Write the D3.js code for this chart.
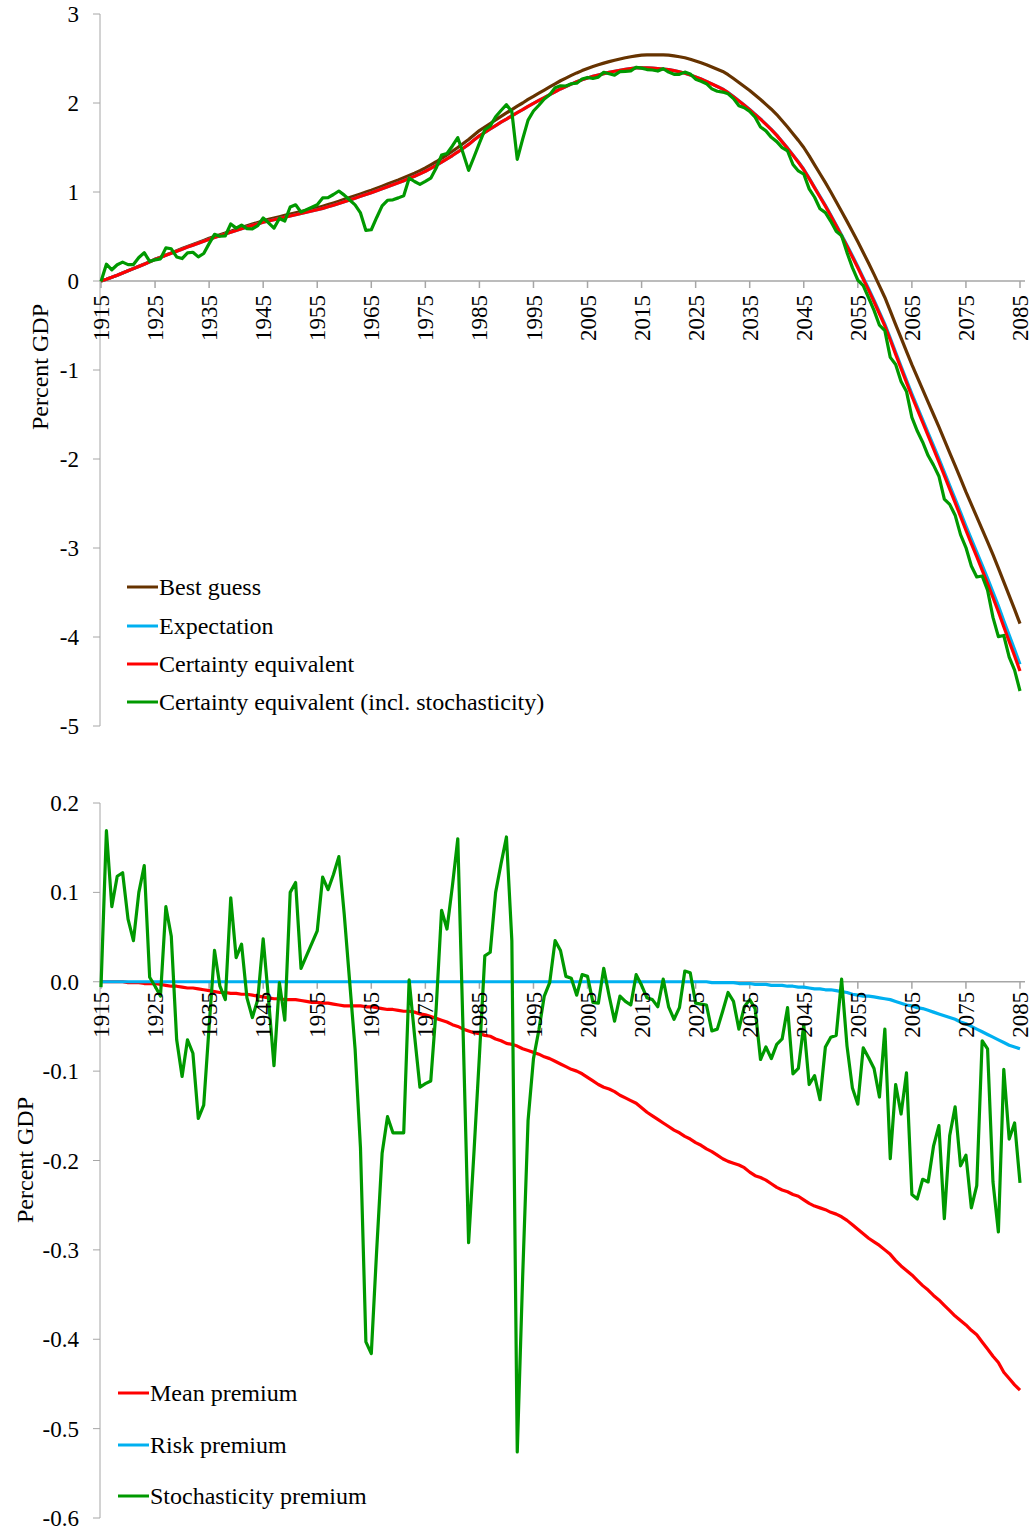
<!DOCTYPE html>
<html>
<head>
<meta charset="utf-8">
<script src="https://cdn.jsdelivr.net/npm/d3@7/dist/d3.min.js"></script>
<style>
  html, body { margin: 0; padding: 0; background: #fff; }
  svg { display: block; }
  text { font-family: "Liberation Serif", "Times New Roman", serif; fill: #000; }
</style>
</head>
<body>
<svg id="chart" width="1034" height="1530"></svg>
<script>
// ---------------- DATA ----------------
const years = d3.range(1915, 2086);

const xTickYears = [1915, 1925, 1935, 1945, 1955, 1965, 1975, 1985, 1995, 2005, 2015, 2025, 2035, 2045, 2055, 2065, 2075, 2085];
const topTickValues = [3, 2, 1, 0, -1, -2, -3, -4, -5];
const topTickLabels = ["3", "2", "1", "0", "-1", "-2", "-3", "-4", "-5"];
const bottomTickValues = [0.2, 0.1, 0.0, -0.1, -0.2, -0.3, -0.4, -0.5, -0.6];
const bottomTickLabels = ["0.2", "0.1", "0.0", "-0.1", "-0.2", "-0.3", "-0.4", "-0.5", "-0.6"];

const topSeriesNames = ["Best guess", "Expectation", "Certainty equivalent", "Certainty equivalent (incl. stochasticity)"];
const bottomSeriesNames = ["Mean premium", "Risk premium", "Stochasticity premium"];

const bestGuess = [
  0.000,0.020,0.042,0.065,0.090,0.115,0.140,0.165,0.190,0.217,
  0.245,0.268,0.292,0.316,0.340,0.364,0.388,0.410,0.432,0.456,
  0.480,0.500,0.520,0.540,0.560,0.580,0.600,0.620,0.640,0.658,
  0.677,0.692,0.707,0.722,0.737,0.751,0.765,0.780,0.795,0.809,
  0.823,0.840,0.858,0.877,0.897,0.917,0.937,0.957,0.978,0.999,
  1.020,1.043,1.066,1.089,1.112,1.135,1.160,1.186,1.212,1.240,
  1.270,1.305,1.340,1.378,1.418,1.458,1.500,1.545,1.590,1.640,
  1.690,1.730,1.770,1.810,1.850,1.888,1.926,1.964,2.000,2.040,
  2.075,2.110,2.145,2.180,2.215,2.250,2.280,2.310,2.338,2.364,
  2.388,2.410,2.430,2.448,2.465,2.480,2.495,2.508,2.520,2.530,
  2.537,2.540,2.541,2.541,2.540,2.537,2.530,2.520,2.508,2.492,
  2.472,2.452,2.430,2.405,2.380,2.355,2.318,2.275,2.230,2.185,
  2.140,2.090,2.040,1.985,1.930,1.870,1.800,1.730,1.655,1.580,
  1.500,1.405,1.305,1.205,1.105,1.000,0.890,0.780,0.670,0.555,
  0.440,0.320,0.200,0.075,-0.055,-0.185,-0.335,-0.490,-0.640,-0.790,
  -0.940,-1.080,-1.220,-1.360,-1.500,-1.640,-1.785,-1.930,-2.075,-2.220,
  -2.370,-2.510,-2.650,-2.790,-2.930,-3.075,-3.225,-3.380,-3.535,-3.690,
  -3.850
];

const expectation = [
  0.000,0.020,0.042,0.065,0.090,0.114,0.139,0.164,0.188,0.215,
  0.243,0.265,0.288,0.311,0.335,0.358,0.381,0.403,0.424,0.447,
  0.470,0.489,0.508,0.528,0.547,0.567,0.586,0.606,0.625,0.642,
  0.660,0.674,0.688,0.703,0.717,0.731,0.745,0.759,0.773,0.786,
  0.800,0.816,0.834,0.852,0.871,0.890,0.910,0.930,0.951,0.971,
  0.992,1.014,1.036,1.058,1.081,1.103,1.127,1.153,1.178,1.204,
  1.233,1.266,1.299,1.335,1.373,1.410,1.450,1.492,1.535,1.583,
  1.632,1.670,1.709,1.746,1.784,1.819,1.856,1.892,1.925,1.963,
  1.996,2.029,2.061,2.094,2.126,2.158,2.185,2.212,2.238,2.261,
  2.281,2.299,2.315,2.330,2.345,2.357,2.368,2.378,2.387,2.394,
  2.396,2.394,2.391,2.387,2.382,2.375,2.364,2.351,2.335,2.316,
  2.292,2.269,2.243,2.215,2.186,2.157,2.117,2.072,2.025,1.977,
  1.927,1.873,1.821,1.763,1.704,1.640,1.567,1.495,1.417,1.340,
  1.256,1.157,1.054,0.952,0.850,0.742,0.630,0.517,0.403,0.283,
  0.163,0.038,-0.087,-0.216,-0.350,-0.485,-0.640,-0.802,-0.958,-1.113,
  -1.268,-1.414,-1.560,-1.705,-1.851,-1.996,-2.147,-2.298,-2.449,-2.599,
  -2.754,-2.900,-3.045,-3.193,-3.341,-3.494,-3.651,-3.817,-3.979,-4.141,
  -4.307
];

const certaintyEquivalent = [
  0.000,0.020,0.042,0.065,0.090,0.114,0.139,0.164,0.188,0.215,
  0.243,0.265,0.288,0.311,0.335,0.358,0.381,0.403,0.424,0.447,
  0.470,0.489,0.508,0.528,0.547,0.567,0.586,0.606,0.625,0.642,
  0.660,0.674,0.688,0.703,0.717,0.731,0.745,0.759,0.773,0.786,
  0.800,0.816,0.834,0.852,0.871,0.890,0.910,0.930,0.951,0.971,
  0.992,1.014,1.036,1.058,1.081,1.103,1.127,1.153,1.178,1.204,
  1.233,1.266,1.299,1.335,1.373,1.410,1.450,1.492,1.535,1.583,
  1.632,1.670,1.709,1.746,1.784,1.819,1.856,1.892,1.925,1.963,
  1.996,2.029,2.061,2.094,2.126,2.158,2.185,2.212,2.238,2.261,
  2.281,2.299,2.315,2.330,2.345,2.357,2.368,2.378,2.387,2.394,
  2.396,2.394,2.391,2.387,2.382,2.375,2.364,2.351,2.335,2.316,
  2.292,2.269,2.243,2.214,2.185,2.156,2.116,2.071,2.023,1.975,
  1.925,1.870,1.818,1.760,1.700,1.636,1.563,1.490,1.412,1.334,
  1.250,1.150,1.046,0.944,0.841,0.733,0.620,0.506,0.391,0.269,
  0.148,0.022,-0.103,-0.233,-0.368,-0.504,-0.660,-0.824,-0.982,-1.139,
  -1.295,-1.443,-1.590,-1.737,-1.885,-2.032,-2.185,-2.338,-2.491,-2.644,
  -2.801,-2.950,-3.098,-3.249,-3.400,-3.556,-3.716,-3.885,-4.050,-4.214,
  -4.382
];

const certaintyEquivalentStoch = [
  -0.006,0.189,0.126,0.183,0.212,0.184,0.185,0.264,0.318,0.220,
  0.238,0.249,0.372,0.362,0.270,0.252,0.316,0.323,0.271,0.309,
  0.420,0.524,0.503,0.508,0.641,0.594,0.628,0.588,0.585,0.622,
  0.708,0.654,0.594,0.702,0.674,0.831,0.856,0.774,0.802,0.829,
  0.857,0.933,0.937,0.972,1.011,0.965,0.910,0.855,0.765,0.568,
  0.576,0.714,0.844,0.907,0.912,0.934,0.958,1.155,1.118,1.086,
  1.119,1.155,1.269,1.415,1.432,1.517,1.610,1.432,1.243,1.393,
  1.549,1.699,1.742,1.846,1.916,1.981,1.902,1.366,1.595,1.808,
  1.910,1.975,2.045,2.093,2.172,2.193,2.191,2.216,2.223,2.269,
  2.287,2.276,2.291,2.345,2.329,2.313,2.352,2.356,2.361,2.402,
  2.392,2.376,2.371,2.359,2.385,2.347,2.322,2.322,2.347,2.326,
  2.268,2.244,2.217,2.159,2.132,2.123,2.104,2.049,1.970,1.947,
  1.905,1.840,1.731,1.687,1.614,1.566,1.499,1.461,1.309,1.237,
  1.202,1.035,0.941,0.812,0.768,0.671,0.560,0.509,0.319,0.150,
  0.011,-0.052,-0.188,-0.330,-0.497,-0.557,-0.858,-0.939,-1.130,-1.241,
  -1.533,-1.686,-1.811,-1.961,-2.069,-2.193,-2.450,-2.510,-2.631,-2.850,
  -2.995,-3.203,-3.326,-3.315,-3.475,-3.780,-3.996,-3.983,-4.226,-4.372,
  -4.607
];

const meanPremium = [
  0.000,0.000,0.000,0.000,0.000,-0.001,-0.001,-0.001,-0.002,-0.002,
  -0.002,-0.003,-0.004,-0.005,-0.005,-0.006,-0.007,-0.007,-0.008,-0.009,
  -0.010,-0.011,-0.012,-0.012,-0.013,-0.013,-0.014,-0.014,-0.015,-0.016,
  -0.017,-0.018,-0.019,-0.019,-0.020,-0.020,-0.020,-0.021,-0.022,-0.023,
  -0.023,-0.024,-0.024,-0.025,-0.026,-0.027,-0.027,-0.027,-0.027,-0.028,
  -0.028,-0.029,-0.030,-0.031,-0.031,-0.032,-0.033,-0.033,-0.034,-0.036,
  -0.037,-0.039,-0.041,-0.043,-0.045,-0.048,-0.050,-0.053,-0.055,-0.057,
  -0.058,-0.060,-0.061,-0.064,-0.066,-0.069,-0.070,-0.072,-0.075,-0.077,
  -0.079,-0.081,-0.084,-0.086,-0.089,-0.092,-0.095,-0.098,-0.100,-0.103,
  -0.107,-0.111,-0.115,-0.118,-0.120,-0.123,-0.127,-0.130,-0.133,-0.136,
  -0.141,-0.146,-0.150,-0.154,-0.158,-0.162,-0.166,-0.169,-0.173,-0.176,
  -0.180,-0.183,-0.187,-0.190,-0.194,-0.198,-0.201,-0.203,-0.205,-0.208,
  -0.213,-0.217,-0.219,-0.222,-0.226,-0.230,-0.233,-0.235,-0.238,-0.240,
  -0.244,-0.248,-0.251,-0.253,-0.255,-0.258,-0.260,-0.263,-0.267,-0.272,
  -0.277,-0.282,-0.287,-0.291,-0.295,-0.300,-0.305,-0.312,-0.318,-0.323,
  -0.328,-0.334,-0.340,-0.345,-0.351,-0.356,-0.362,-0.368,-0.374,-0.379,
  -0.384,-0.390,-0.395,-0.403,-0.411,-0.419,-0.426,-0.437,-0.444,-0.451,
  -0.457
];

const riskPremium = [
  0,0,0,0,0,0,0,0,0,0,
  0,0,0,0,0,0,0,0,0,0,
  0,0,0,0,0,0,0,0,0,0,
  0,0,0,0,0,0,0,0,0,0,
  0,0,0,0,0,0,0,0,0,0,
  0,0,0,0,0,0,0,0,0,0,
  0,0,0,0,0,0,0,0,0,0,
  0,0,0,0,0,0,0,0,0,0,
  0,0,0,0,0,0,0,0,0,0,
  0,0,0,0,0,0,0,0,0,0,
  0,0,0,0,0,0,0,0,0,0,
  0,0,0,-0.001,-0.001,-0.001,-0.001,-0.001,-0.002,-0.002,
  -0.002,-0.003,-0.003,-0.003,-0.004,-0.004,-0.004,-0.005,-0.005,-0.006,
  -0.006,-0.007,-0.008,-0.008,-0.009,-0.009,-0.010,-0.011,-0.012,-0.014,
  -0.015,-0.016,-0.016,-0.017,-0.018,-0.019,-0.020,-0.022,-0.024,-0.026,
  -0.027,-0.029,-0.030,-0.032,-0.034,-0.036,-0.038,-0.040,-0.042,-0.045,
  -0.047,-0.050,-0.053,-0.056,-0.059,-0.062,-0.065,-0.068,-0.071,-0.073,
  -0.075
];

const stochPremium = [
  -0.006,0.169,0.084,0.118,0.122,0.070,0.046,0.100,0.130,0.005,
  -0.005,-0.016,0.084,0.051,-0.065,-0.106,-0.065,-0.080,-0.153,-0.138,
  -0.050,0.035,-0.005,-0.020,0.094,0.027,0.042,-0.018,-0.040,-0.020,
  0.048,-0.020,-0.094,-0.001,-0.043,0.100,0.111,0.015,0.029,0.043,
  0.057,0.117,0.103,0.120,0.140,0.075,0.000,-0.075,-0.186,-0.403,
  -0.416,-0.300,-0.192,-0.151,-0.169,-0.169,-0.169,0.002,-0.060,-0.118,
  -0.114,-0.111,-0.030,0.080,0.059,0.107,0.160,-0.060,-0.292,-0.190,
  -0.083,0.029,0.033,0.100,0.132,0.162,0.046,-0.526,-0.330,-0.155,
  -0.086,-0.054,-0.016,-0.001,0.046,0.035,0.006,0.004,-0.015,0.008,
  0.006,-0.023,-0.024,0.015,-0.016,-0.044,-0.016,-0.022,-0.026,0.008,
  -0.004,-0.018,-0.020,-0.028,0.003,-0.028,-0.042,-0.029,0.012,0.010,
  -0.024,-0.025,-0.026,-0.055,-0.053,-0.033,-0.012,-0.022,-0.053,-0.028,
  -0.020,-0.030,-0.087,-0.073,-0.086,-0.070,-0.064,-0.029,-0.103,-0.097,
  -0.048,-0.115,-0.105,-0.132,-0.073,-0.062,-0.060,0.003,-0.072,-0.119,
  -0.137,-0.074,-0.085,-0.097,-0.129,-0.053,-0.198,-0.115,-0.148,-0.102,
  -0.238,-0.243,-0.221,-0.224,-0.184,-0.161,-0.265,-0.172,-0.140,-0.206,
  -0.194,-0.253,-0.228,-0.066,-0.075,-0.224,-0.280,-0.098,-0.176,-0.158,
  -0.225
];

// ---------------- STYLE ----------------
const COLORS = { brown: "#663300", blue: "#00b0f0", red: "#ff0000", green: "#009900" };
const AXIS_COLOR = "#a6a6a6";

const svg = d3.select("#chart");

const x = d3.scaleLinear().domain([1915, 2085]).range([101, 1020]);

function drawPanel(opts) {
  const g = svg.append("g");
  const y = opts.y;
  const x0 = 100;

  // Y axis line + ticks + labels
  g.append("line").attr("x1", x0).attr("x2", x0)
    .attr("y1", y(opts.yTicks[0])).attr("y2", y(opts.yTicks[opts.yTicks.length - 1]))
    .attr("stroke", AXIS_COLOR).attr("stroke-width", 1);
  opts.yTicks.forEach((v, i) => {
    g.append("line").attr("x1", x0 - 7).attr("x2", x0)
      .attr("y1", y(v)).attr("y2", y(v))
      .attr("stroke", AXIS_COLOR).attr("stroke-width", 1);
    g.append("text").attr("x", 79).attr("y", y(v)).attr("dy", "0.35em")
      .attr("text-anchor", "end").style("font-size", "23px")
      .text(opts.yLabels[i]);
  });

  // X axis (at zero) + ticks
  const yz = y(0);
  g.append("line").attr("x1", x0).attr("x2", 1025)
    .attr("y1", yz).attr("y2", yz)
    .attr("stroke", AXIS_COLOR).attr("stroke-width", 1.5);
  xTickYears.forEach(yr => {
    g.append("line").attr("x1", x(yr)).attr("x2", x(yr))
      .attr("y1", yz).attr("y2", yz + 7)
      .attr("stroke", AXIS_COLOR).attr("stroke-width", 1.5);
  });

  // Axis title
  g.append("text")
    .attr("transform", `translate(${opts.titleX},${opts.titleY}) rotate(-90)`)
    .attr("text-anchor", "middle").attr("dy", "0.35em")
    .style("font-size", "24px").text("Percent GDP");

  // Lines
  const line = d3.line().x((d, i) => x(years[i])).y(d => y(d));
  opts.series.forEach(s => {
    g.append("path").datum(s.values)
      .attr("d", line).attr("fill", "none")
      .attr("stroke", s.color).attr("stroke-width", 3.2)
      .attr("stroke-linejoin", "round").attr("stroke-linecap", "butt");
  });

  // X tick labels (drawn above lines like the reference)
  xTickYears.forEach(yr => {
    g.append("text")
      .attr("transform", `translate(${x(yr)},${yz + opts.labelGap}) rotate(-90)`)
      .attr("text-anchor", "end").attr("dy", "0.35em")
      .style("font-size", "23px").text(String(yr));
  });

  // Legend
  opts.legend.forEach((l, i) => {
    const ly = opts.legendY[i];
    g.append("line").attr("x1", opts.legendX).attr("x2", opts.legendX + 31)
      .attr("y1", ly).attr("y2", ly)
      .attr("stroke", l.color).attr("stroke-width", 3);
    g.append("text").attr("x", opts.legendX + 32).attr("y", ly).attr("dy", "0.33em")
      .style("font-size", "24px").text(l.name);
  });
}

// Top panel
const yTop = d3.scaleLinear().domain([-5, 3]).range([726, 14]);
drawPanel({
  y: yTop,
  yTicks: topTickValues,
  yLabels: topTickLabels,
  titleX: 40, titleY: 367,
  labelGap: 14,
  series: [
    { values: bestGuess, color: COLORS.brown },
    { values: expectation, color: COLORS.blue },
    { values: certaintyEquivalent, color: COLORS.red },
    { values: certaintyEquivalentStoch, color: COLORS.green }
  ],
  legendX: 127,
  legendY: [587, 626, 664, 702],
  legend: [
    { name: topSeriesNames[0], color: COLORS.brown },
    { name: topSeriesNames[1], color: COLORS.blue },
    { name: topSeriesNames[2], color: COLORS.red },
    { name: topSeriesNames[3], color: COLORS.green }
  ]
});

// Bottom panel
const yBot = d3.scaleLinear().domain([-0.6, 0.2]).range([1518, 803]);
drawPanel({
  y: yBot,
  yTicks: bottomTickValues,
  yLabels: bottomTickLabels,
  titleX: 25, titleY: 1160,
  labelGap: 10,
  series: [
    { values: meanPremium, color: COLORS.red },
    { values: riskPremium, color: COLORS.blue },
    { values: stochPremium, color: COLORS.green }
  ],
  legendX: 118,
  legendY: [1393, 1445, 1496],
  legend: [
    { name: bottomSeriesNames[0], color: COLORS.red },
    { name: bottomSeriesNames[1], color: COLORS.blue },
    { name: bottomSeriesNames[2], color: COLORS.green }
  ]
});
</script>
</body>
</html>
